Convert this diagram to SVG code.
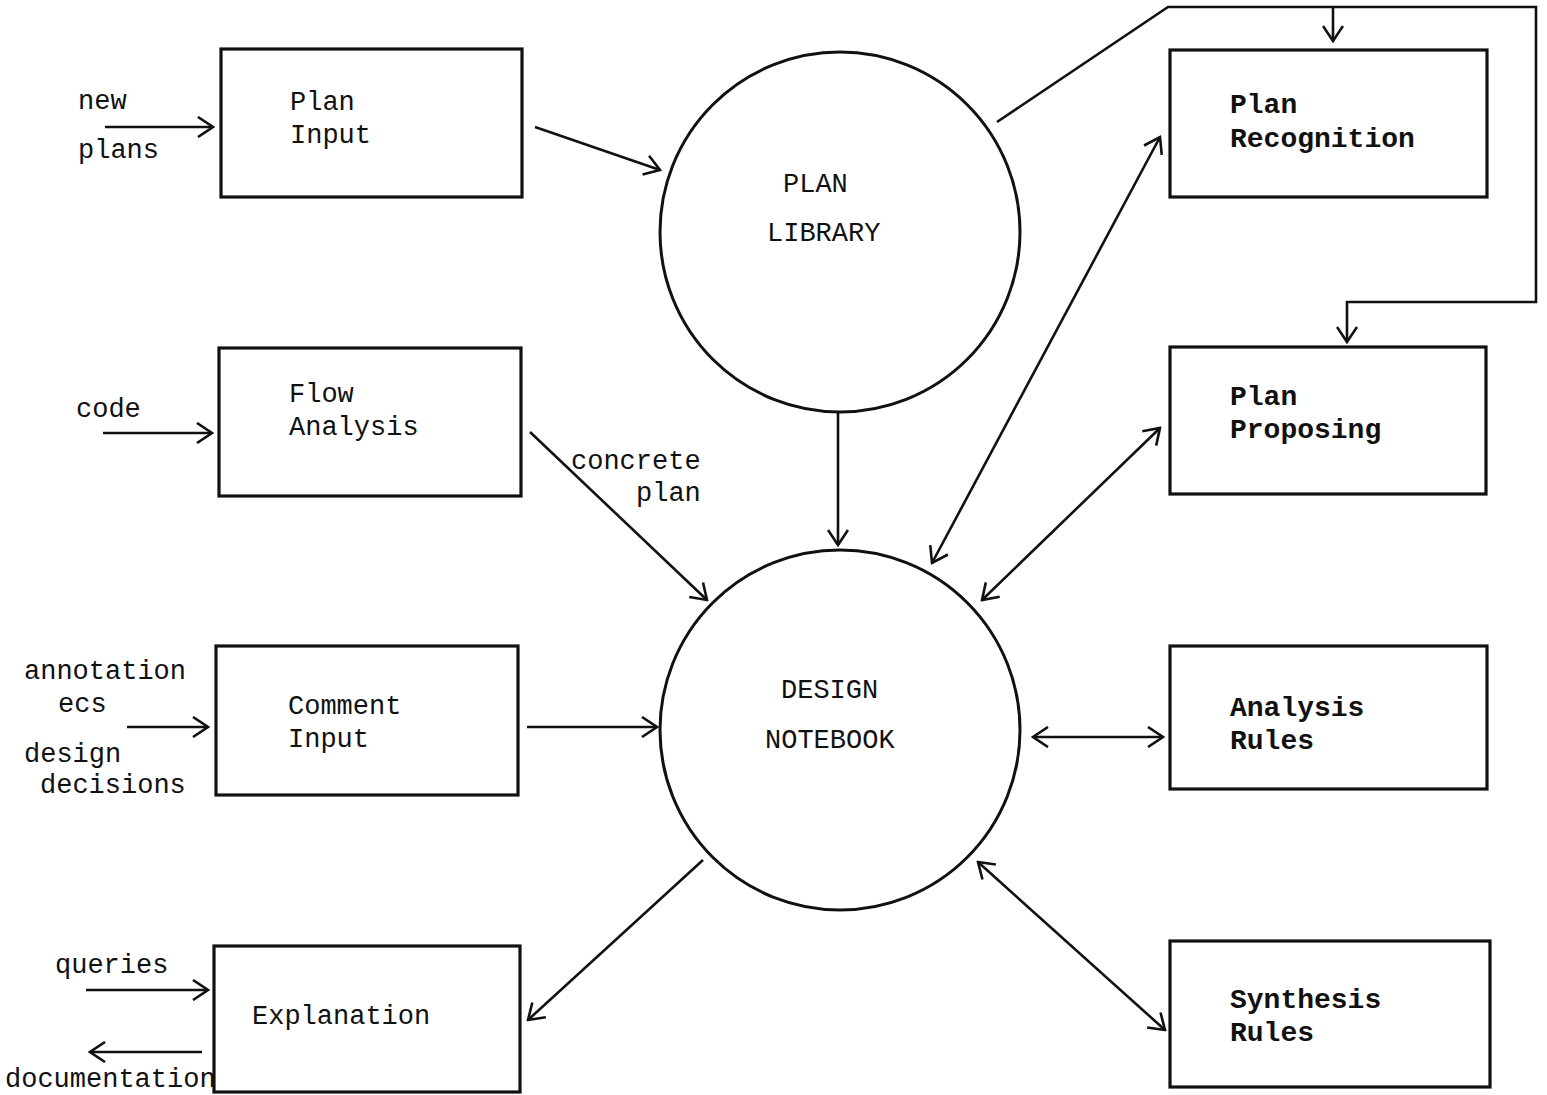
<svg xmlns="http://www.w3.org/2000/svg" width="1547" height="1095" viewBox="0 0 1547 1095">
<defs>
<marker id="ah" viewBox="0 0 18 22" refX="16" refY="11" markerWidth="18" markerHeight="22" markerUnits="userSpaceOnUse" orient="auto-start-reverse">
<path d="M1,1 L16,11 L1,21" fill="none" stroke="#111" stroke-width="2.6"/>
</marker>
<style>
.box{fill:none;stroke:#111;stroke-width:3.2}
.circ{fill:none;stroke:#111;stroke-width:3}
.t{font-family:"Liberation Mono","DejaVu Sans Mono",monospace;font-size:27px;fill:#111}
.b{font-weight:bold;font-size:28px}
.c{fill:none;stroke:#111;stroke-width:2.6}
.a{marker-end:url(#ah)}
.d{marker-start:url(#ah);marker-end:url(#ah)}
</style>
</defs>
<rect width="1547" height="1095" fill="#fff"/>
<g id="plan-input"><rect class="box" x="221" y="49" width="301" height="148"/><text class="t" x="290" y="110">Plan</text><text class="t" x="290" y="143">Input</text></g>
<g id="flow-analysis"><rect class="box" x="219" y="348" width="302" height="148"/><text class="t" x="289" y="402">Flow</text><text class="t" x="289" y="435">Analysis</text></g>
<g id="comment-input"><rect class="box" x="216" y="646" width="302" height="149"/><text class="t" x="288" y="714">Comment</text><text class="t" x="288" y="747">Input</text></g>
<g id="explanation"><rect class="box" x="214" y="946" width="306" height="146"/><text class="t" x="252" y="1024">Explanation</text></g>
<g id="plan-library"><circle class="circ" cx="840" cy="232" r="180"/><text class="t" x="783" y="192">PLAN</text><text class="t" x="767" y="241">LIBRARY</text></g>
<g id="design-notebook"><circle class="circ" cx="840" cy="730" r="180"/><text class="t" x="781" y="698">DESIGN</text><text class="t" x="765" y="748">NOTEBOOK</text></g>
<g id="plan-recognition"><rect class="box" x="1170" y="50" width="317" height="147"/><text class="t b" x="1230" y="113">Plan</text><text class="t b" x="1230" y="147">Recognition</text></g>
<g id="plan-proposing"><rect class="box" x="1170" y="347" width="316" height="147"/><text class="t b" x="1230" y="405">Plan</text><text class="t b" x="1230" y="438">Proposing</text></g>
<g id="analysis-rules"><rect class="box" x="1170" y="646" width="317" height="143"/><text class="t b" x="1230" y="716">Analysis</text><text class="t b" x="1230" y="749">Rules</text></g>
<g id="synthesis-rules"><rect class="box" x="1170" y="941" width="320" height="146"/><text class="t b" x="1230" y="1008">Synthesis</text><text class="t b" x="1230" y="1041">Rules</text></g>
<g id="labels">
<text class="t" x="78" y="109">new</text><text class="t" x="78" y="158">plans</text>
<text class="t" x="76" y="417">code</text>
<text class="t" x="571" y="469">concrete</text><text class="t" x="636" y="501">plan</text>
<text class="t" x="24" y="679">annotation</text><text class="t" x="58" y="712">ecs</text>
<text class="t" x="24" y="762">design</text><text class="t" x="40" y="793">decisions</text>
<text class="t" x="55" y="973">queries</text>
<text class="t" x="5" y="1087">documentation</text>
</g>
<g id="connectors">
<line class="c a" x1="105" y1="127" x2="213" y2="127"/>
<line class="c a" x1="535" y1="127" x2="660" y2="170"/>
<line class="c a" x1="103" y1="433" x2="212" y2="433"/>
<line class="c a" x1="530" y1="432" x2="707" y2="600"/>
<line class="c a" x1="127" y1="727" x2="208" y2="727"/>
<line class="c a" x1="527" y1="727" x2="657" y2="727"/>
<line class="c a" x1="86" y1="990" x2="208" y2="990"/>
<line class="c a" x1="202" y1="1052" x2="90" y2="1052"/>
<line class="c a" x1="703" y1="860" x2="528" y2="1020"/>
<line class="c a" x1="838" y1="413" x2="838" y2="545"/>
<line class="c d" x1="932" y1="563" x2="1160" y2="137"/>
<line class="c d" x1="982" y1="600" x2="1160" y2="428"/>
<line class="c d" x1="1033" y1="737" x2="1163" y2="737"/>
<line class="c d" x1="978" y1="862" x2="1165" y2="1030"/>
<polyline class="c a" points="997,122 1168,7 1536,7 1536,302 1347,302 1347,342"/>
<line class="c a" x1="1333" y1="7" x2="1333" y2="41"/>
</g>
</svg>
